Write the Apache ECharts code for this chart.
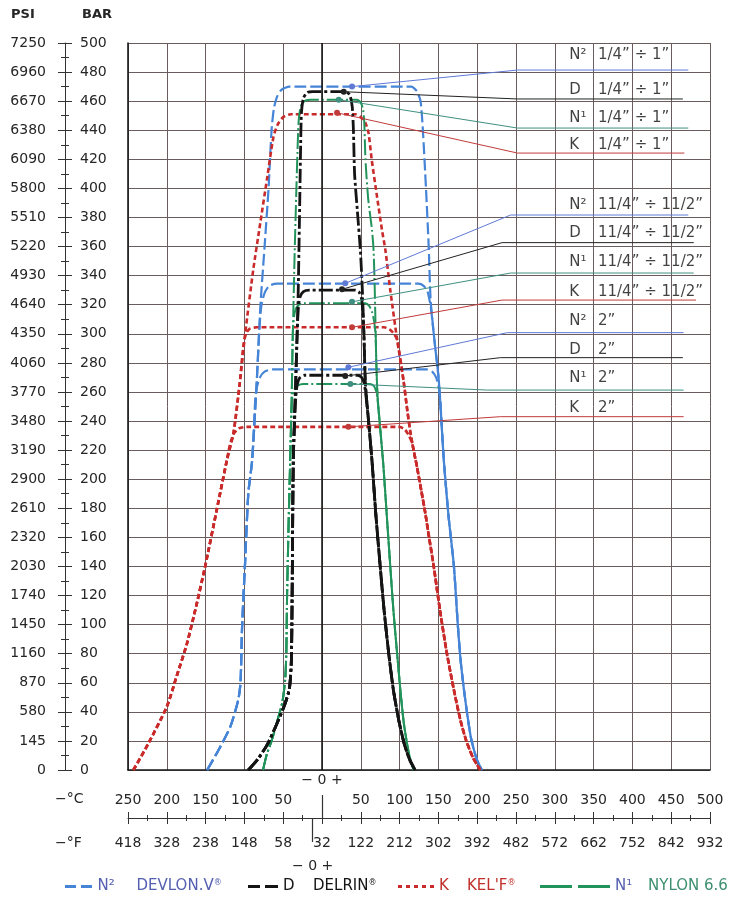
<!DOCTYPE html>
<html><head><meta charset="utf-8">
<script src="https://cdn.jsdelivr.net/npm/echarts@6/dist/echarts.min.js"></script>
<style>html,body{margin:0;padding:0;background:#fff}#c{width:755px;height:898px}</style>
</head><body><div id="c"></div>
<script>
// ---------------- tick labels ----------------
const psiLabels = ['0','145','580','870','1160','1450','1740','2030','2320','2610','2900','3190','3480','3770','4060','4350','4640','4930','5220','5510','5800','6090','6380','6670','6960','7250'];
const celsiusLabels = ['250','200','150','100','50','','50','100','150','200','250','300','350','400','450','500'];
const fahrenheitLabels = ['418','328','238','148','58','32','122','212','302','392','482','572','662','752','842','932'];

// ---------------- curves [°C, bar] ----------------
const devlon14 = [[-148,0],[-132,15],[-118,30],[-108,48],[-105,60],[-103,98],[-99,144],[-95,190],[-90,213],[-84,268],[-79.5,318],[-74,360],[-69,399],[-65,440],[-62,455],[-58,463],[-52,468],[-42,470],[115,470],[122,467],[127,460],[130,440],[134,400],[137.5,360],[140,323],[145,295],[150.5,268],[157,213],[163,175],[170,140],[175,100],[178.5,76],[183,55],[187,39],[192,22],[199,8],[206,0]];
const devlon112 = [[-148,0],[-132,15],[-118,30],[-108,48],[-105,60],[-103,98],[-99,144],[-95,190],[-90,213],[-84,268],[-80.5,305],[-78,320],[-74,328],[-68,333],[-58,334.5],[124,334.5],[131,333],[136,329],[139,322],[141,315],[145,295],[150.5,268],[157,213],[163,175],[170,140],[175,100],[178.5,76],[183,55],[187,39],[192,22],[199,8],[206,0]];
const devlon2 = [[-148,0],[-132,15],[-118,30],[-108,48],[-105,60],[-103,98],[-99,144],[-95,190],[-90,213],[-86,255],[-84,263],[-80,270],[-74,274],[-64,275.5],[135,275.5],[142,274],[147,270],[150,264],[152,258],[157,213],[163,175],[170,140],[175,100],[178.5,76],[183,55],[187,39],[192,22],[199,8],[206,0]];

const delrin14 = [[-95,0],[-82,8],[-70,18],[-58,32],[-48,45],[-42,56],[-39.5,75],[-38.5,120],[-37,213],[-34,265],[-31,320],[-29,380],[-27.5,430],[-26.5,452],[-24,462],[-19,466],[-12,466.5],[31,466.5],[36,464],[39,456],[40.5,440],[42,410],[45.5,385],[49.5,357],[52,330],[54,300],[56,265],[60,240],[64.5,212],[69.5,175],[75,140],[80,110],[86,80],[92,55],[99,34],[106,18],[113,7],[120,0]];
const delrin112 = [[-95,0],[-82,8],[-70,18],[-58,32],[-48,45],[-42,56],[-39.5,75],[-38.5,120],[-37,213],[-34,265],[-32,300],[-30.5,318],[-28.5,325],[-24,329],[-16,330],[43,330],[48,328.5],[51,324],[52.5,316],[54,300],[56,265],[60,240],[64.5,212],[69.5,175],[75,140],[80,110],[86,80],[92,55],[99,34],[106,18],[113,7],[120,0]];
const delrin2 = [[-95,0],[-82,8],[-70,18],[-58,32],[-48,45],[-42,56],[-39.5,75],[-38.5,120],[-37,213],[-34.5,250],[-33.5,258],[-32,265],[-29,269.5],[-23,271.5],[46,271.5],[51,270],[54.5,265.5],[56.5,258],[60,240],[64.5,212],[69.5,175],[75,140],[80,110],[86,80],[92,55],[99,34],[106,18],[113,7],[120,0]];

const kelf14 = [[-243,0],[-224,18],[-200,43.5],[-187,65],[-174,87],[-162,113],[-150.6,140],[-135.6,179],[-122.6,213],[-114,232],[-106,266],[-99,300],[-88.6,344],[-79.6,376],[-71,406],[-62.5,435.6],[-57,444],[-50,449],[-40,451],[43,451],[50,449],[56,445],[60,438],[64,420],[71,394],[77.4,371],[81.7,357.6],[88,330],[96.8,296],[105,268],[110,247],[114,232],[118,220],[122.6,208],[128,192],[133,177],[138,160],[144,140],[152,110],[161,80],[170,55],[178.5,34],[186,20],[195,8],[204,0]];
const kelf112 = [[-243,0],[-224,18],[-200,43.5],[-187,65],[-174,87],[-162,113],[-150.6,140],[-135.6,179],[-122.6,213],[-114,232],[-106,266],[-103,283],[-101,293],[-98,300],[-93,303.5],[-84,304.5],[80,304.5],[87,303],[92,300.5],[96.8,296],[105,268],[110,247],[114,232],[118,220],[122.6,208],[128,192],[133,177],[138,160],[144,140],[152,110],[161,80],[170,55],[178.5,34],[186,20],[195,8],[204,0]];
const kelf2 = [[-243,0],[-224,18],[-200,43.5],[-187,65],[-174,87],[-162,113],[-150.6,140],[-135.6,179],[-122.6,213],[-119,223],[-114,231],[-107,235],[-97,236],[100,236],[107,234],[112,230],[116,225],[120,215],[122.6,208],[128,192],[133,177],[138,160],[144,140],[152,110],[161,80],[170,55],[178.5,34],[186,20],[195,8],[204,0]];

const nylon14 = [[-76,0],[-71,11],[-65,20],[-58,33],[-51,47],[-47.5,62],[-46,80],[-45,120],[-43,170],[-41,213],[-39,258],[-37.5,300],[-35.5,350],[-33,400],[-31,435],[-29.5,450],[-26.5,457.5],[-21,460.5],[-14,461],[45,461],[50,459],[53,454],[54.5,445],[56,420],[59.5,393],[64.5,371],[66.5,357],[68,330],[69,305],[70,280],[71.5,258],[75,235],[79,210],[83.5,175],[88,140],[92,110],[96.8,80],[101,55],[105,34],[109,20],[113,9],[118,0]];
const nylon112 = [[-76,0],[-71,11],[-65,20],[-58,33],[-51,47],[-47.5,62],[-46,80],[-45,120],[-43,170],[-41,213],[-39,258],[-38,295],[-37,307],[-35,315],[-31,319.5],[-24,321],[56,321],[61,319],[64.5,315],[67,309],[69,300],[70,280],[71.5,258],[75,235],[79,210],[83.5,175],[88,140],[92,110],[96.8,80],[101,55],[105,34],[109,20],[113,9],[118,0]];
const nylon2 = [[-76,0],[-71,11],[-65,20],[-58,33],[-51,47],[-47.5,62],[-46,80],[-45,120],[-43,170],[-41,213],[-39.5,245],[-38.5,255],[-36.5,261],[-31,264.5],[-24,265.5],[62,265.5],[67,264],[70,260],[71.5,255],[75,235],[79,210],[83.5,175],[88,140],[92,110],[96.8,80],[101,55],[105,34],[109,20],[113,9],[118,0]];

// ---------------- leader lines [°C, bar] ----------------
const leadDevlon14 = [[38.7,470],[252,481.4],[472,481.4]];
const leadDelrin14 = [[28,466.5],[252,461.5],[465,461.5]];
const leadNylon14 = [[21.5,461],[252,441.5],[472,441.5]];
const leadKelf14 = [[19.4,452],[252,424.3],[467,424.3]];
const leadDevlon112 = [[30,334.7],[243,381.7],[472,381.7]];
const leadDelrin112 = [[25.8,330.6],[232,362.7],[479,362.7]];
const leadNylon112 = [[38.7,322],[243,341.8],[479,341.8]];
const leadKelf112 = [[38.7,304.5],[232,323.2],[482,323.2]];
const leadDevlon2 = [[34,277],[239,300.8],[466,300.8]];
const leadDelrin2 = [[30,271],[230,283.6],[465,283.6]];
const leadNylon2 = [[36.5,265.5],[213,261.3],[466,261.3]];
const leadKelf2 = [[34,236],[230,243],[466,243]];

// ---------------- right-hand labels ----------------
const labelCodes = ['N²','D','N¹','K','N²','D','N¹','K','N²','D','N¹','K'];
const labelSizes = ['1/4” ÷ 1”','1/4” ÷ 1”','1/4” ÷ 1”','1/4” ÷ 1”','11/4” ÷ 11/2”','11/4” ÷ 11/2”','11/4” ÷ 11/2”','11/4” ÷ 11/2”','2”','2”','2”','2”'];
const labelBars = [491.7,467.7,448.4,429.8,388.6,369.3,349.4,328.7,308.8,288.9,269.6,249.0];
const labelCodeTemp = 318, labelSizeTemp = 355;
const fahrenheitZero = -12;

const FONT = 'DejaVu Sans';
const C_BLUE = '#4584d6', C_BLACK = '#141414', C_RED = '#c92a2a', C_GREEN = '#22935a';
const styles = {
  N2: {color: C_BLUE, width: 2.2, type: [12, 4]},
  D:  {color: C_BLACK, width: 2.8, type: [14, 3, 3, 3]},
  K:  {color: C_RED, width: 2.6, type: [5, 3]},
  N1: {color: C_GREEN, width: 2, type: [16, 3, 2, 3]}
};
const leadColors = {N2: '#5f7ad6', D: '#222222', K: '#c23b3b', N1: '#3f8f80'};

function curve(name, data) {
  const s = styles[name];
  return {type: 'line', name, data, symbol: 'none', smooth: 0.22, silent: true, z: 3,
    color: s.color, lineStyle: {color: s.color, width: s.width, type: s.type}};
}
function leader(name, pts) {
  return {type: 'line', name: 'lead' + name, silent: true, z: 4, symbol: 'circle', symbolSize: 6, showSymbol: true,
    itemStyle: {color: leadColors[name]}, lineStyle: {color: leadColors[name], width: 1},
    data: pts.map((p, i) => i === 0 ? {value: p} : {value: p, symbol: 'none'})};
}
const labelSeries = (temp, texts) => ({
  type: 'scatter', silent: true, symbolSize: 1, itemStyle: {color: 'transparent'}, z: 5,
  data: texts.map((t, i) => [temp, labelBars[i], t]),
  label: {show: true, position: 'right', distance: 0, formatter: p => p.data[2], color: '#111', fontSize: 15, fontFamily: FONT}
});

const series = [
  curve('N2', devlon14), curve('N2', devlon112), curve('N2', devlon2),
  curve('K', kelf14), curve('K', kelf112), curve('K', kelf2),
  curve('N1', nylon14), curve('N1', nylon112), curve('N1', nylon2),
  curve('D', delrin14), curve('D', delrin112), curve('D', delrin2),
  leader('N2', leadDevlon14), leader('D', leadDelrin14), leader('N1', leadNylon14), leader('K', leadKelf14),
  leader('N2', leadDevlon112), leader('D', leadDelrin112), leader('N1', leadNylon112), leader('K', leadKelf112),
  leader('N2', leadDevlon2), leader('D', leadDelrin2), leader('N1', leadNylon2), leader('K', leadKelf2),
  labelSeries(labelCodeTemp, labelCodes), labelSeries(labelSizeTemp, labelSizes)
];
series[0].markLine = {silent: true, symbol: 'none', label: {show: false}, animation: false,
  lineStyle: {color: '#111', width: 1.5, type: 'solid'}, data: [{xAxis: 0}]};

const GRIDC = '#6a5c5c';
const TXT = {fontFamily: FONT, fontSize: 14, color: '#262626'};
const xBase = {type: 'value', min: -250, max: 500, interval: 50, splitLine: {show: false}};
const yBase = {type: 'value', min: 0, max: 500, interval: 20, splitLine: {show: false}};
const line = (show, w) => ({show, onZero: false, lineStyle: {color: '#333', width: w || 1}});

function legendItem(name, left, itemWidth, icon, c1, c2, nW, text, reg) {
  return {
    data: [{name, icon}], left, top: 879, itemWidth, itemHeight: 3, selectedMode: false, padding: 0,
    formatter: () => '{n|' + (name === 'N2' ? 'N²' : name === 'N1' ? 'N¹' : name) + '}{t|' + text + '}' + (reg ? '{r|®}' : ''),
    textStyle: {rich: {
      n: {width: nW, fontSize: 15, fontFamily: FONT, color: c1},
      t: {fontSize: 15, fontFamily: FONT, color: c2},
      r: {fontSize: 8, fontFamily: FONT, color: c2, verticalAlign: 'top'}
    }}
  };
}

const option = {
  animation: false,
  backgroundColor: '#fff',
  textStyle: {fontFamily: FONT},
  grid: {left: 128, right: 45, top: 43, bottom: 128, outerBoundsMode: 'none', containLabel: false},
  xAxis: [
    Object.assign({}, xBase, {axisLine: {show: true, onZero: false, lineStyle: {color: '#1a1a1a', width: 1.6}}, axisTick: {show: false}, axisLabel: {show: false},
      splitLine: {show: true, lineStyle: {color: GRIDC, width: 1}}}),
    Object.assign({}, xBase, {position: 'bottom', offset: 48, axisLine: line(true),
      axisTick: {show: true, inside: true, length: 6, lineStyle: {color: '#333'}},
      minorTick: {show: true, splitNumber: 2, length: 3, lineStyle: {color: '#333'}},
      axisLabel: Object.assign({show: true, inside: true, margin: 11, formatter: v => celsiusLabels[Math.round((v + 250) / 50)] || ''}, TXT)}),
    Object.assign({}, xBase, {position: 'bottom', offset: 48, axisLine: line(false),
      axisTick: {show: true, inside: false, length: 6, lineStyle: {color: '#333'}},
      minorTick: {show: true, splitNumber: 2, length: 3, lineStyle: {color: '#333'}},
      axisLabel: Object.assign({show: true, inside: false, margin: 18, formatter: v => fahrenheitLabels[Math.round((v + 250) / 50)] || ''}, TXT)}),
    {type: 'value', min: -250, max: 500, position: 'bottom', offset: 48, axisLine: line(false), splitLine: {show: false},
      axisTick: {show: true, inside: true, length: 23, customValues: [0], lineStyle: {color: '#333', width: 1.2}},
      axisLabel: Object.assign({show: true, inside: true, margin: 31, customValues: [0], formatter: () => '− 0 +'}, TXT)},
    {type: 'value', min: -250, max: 500, position: 'bottom', offset: 48, axisLine: line(false), splitLine: {show: false},
      axisTick: {show: true, inside: false, length: 24, customValues: [fahrenheitZero], lineStyle: {color: '#333', width: 1.2}},
      axisLabel: Object.assign({show: true, inside: false, margin: 41, customValues: [fahrenheitZero], formatter: () => '− 0 +'}, TXT)}
  ],
  yAxis: [
    Object.assign({}, yBase, {axisLine: {show: true, onZero: false, lineStyle: {color: '#1a1a1a', width: 1.6}}, axisTick: {show: false}, axisLabel: {show: false},
      splitLine: {show: true, lineStyle: {color: GRIDC, width: 1}}}),
    Object.assign({}, yBase, {position: 'left', offset: 63, axisLine: line(true),
      axisTick: {show: true, inside: false, length: 7, lineStyle: {color: '#333'}},
      minorTick: {show: true, splitNumber: 2, length: 4, lineStyle: {color: '#333'}},
      axisLabel: Object.assign({show: true, inside: false, margin: 19, formatter: v => psiLabels[Math.round(v / 20)] || ''}, TXT)}),
    Object.assign({}, yBase, {position: 'left', offset: 63, axisLine: line(false),
      axisTick: {show: true, inside: true, length: 7, lineStyle: {color: '#333'}},
      minorTick: {show: true, splitNumber: 2, length: 4, lineStyle: {color: '#333'}},
      axisLabel: Object.assign({show: true, inside: true, margin: 15, formatter: v => String(v)}, TXT)})
  ],
  legend: [
    legendItem('N2', 65, 28, 'path://M0,0H11V3H0Z M16,0H27V3H16Z', '#5560b0', '#5560b0', 39, 'DEVLON.V', true),
    legendItem('D', 248, 30, 'path://M0,0H12V3H0Z M17,0H30V3H17Z', '#141414', '#141414', 30, 'DELRIN', true),
    legendItem('K', 398, 36, 'path://M0,0H4V3H0Z M8,0H12V3H8Z M16,0H20V3H16Z M24,0H28V3H24Z M32,0H36V3H32Z', '#c0302a', '#c0302a', 28, "KEL'F", true),
    legendItem('N1', 540, 70, 'path://M0,0H32V3H0Z M38,0H70V3H38Z', '#5560b0', '#3d8f6f', 33, 'NYLON 6.6', false)
  ],
  graphic: [
    {type: 'text', left: 11, top: 8, style: {text: 'PSI', font: 'bold 13px "DejaVu Sans"', fill: '#262626'}},
    {type: 'text', left: 82, top: 8, style: {text: 'BAR', font: 'bold 13px "DejaVu Sans"', fill: '#262626'}},
    {type: 'text', left: 55, top: 792, style: {text: '−°C', font: '14px "DejaVu Sans"', fill: '#262626'}},
    {type: 'text', left: 55, top: 836, style: {text: '−°F', font: '14px "DejaVu Sans"', fill: '#262626'}}
  ],
  series
};
const chart = echarts.init(document.getElementById('c'));
chart.setOption(option);
</script></body></html>
